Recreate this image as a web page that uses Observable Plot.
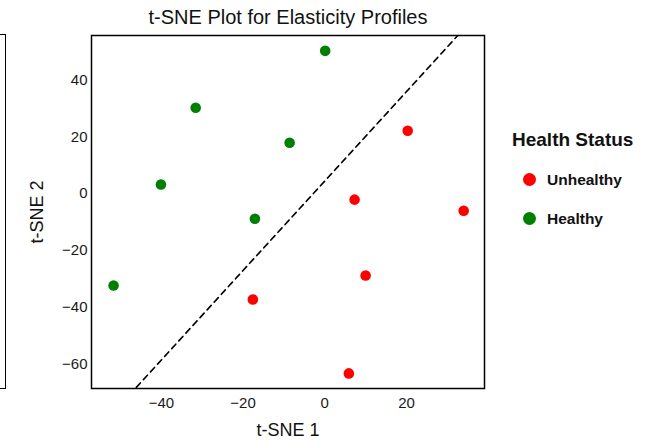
<!DOCTYPE html>
<html>
<head>
<meta charset="utf-8">
<script src="https://cdn.jsdelivr.net/npm/d3@7"></script>
<script src="https://cdn.jsdelivr.net/npm/@observablehq/plot@0.6"></script>
<style>
  html, body { margin: 0; padding: 0; background: white; }
  #wrap { position: relative; width: 654px; height: 440px; overflow: hidden; font-family: "Liberation Sans", Arial, Helvetica, sans-serif; }
  #leftpanel { position: absolute; left: -20px; top: 34px; width: 24px; height: 353px; border: 1.5px solid black; box-sizing: content-box; }
  .lg { position: absolute; white-space: nowrap; color: #111; font-weight: bold; }
  .dotl { position: absolute; width: 13px; height: 13px; border-radius: 50%; }
</style>
</head>
<body>
<div id="wrap">
  <div id="chart"></div>
  <div id="leftpanel"></div>
  <div id="legend"></div>
</div>
<script>
// ---- data ----
const statusCategories = ["Unhealthy", "Healthy"];
const statusColors = ["#ff0000", "#008000"];

const healthyX = [0.1, -31.6, -8.6, -40.1, -17.1, -51.7];
const healthyY = [50.2, 30.2, 17.9, 3.2, -8.8, -32.3];

const unhealthyX = [20.3, 7.3, 34.0, 10.0, -17.6, 5.9];
const unhealthyY = [22.1, -2.1, -6.0, -28.8, -37.2, -63.2];

// decision boundary (dashed) endpoints
const boundaryX = [-60, 40];
const boundaryY = [-89.9, 67.3];

const xTicks = [-40, -20, 0, 20];
const yTicks = [-60, -40, -20, 0, 20, 40];

const titleText = "t-SNE Plot for Elasticity Profiles";
const xLabel = "t-SNE 1";
const yLabel = "t-SNE 2";
const legendTitle = "Health Status";

// ---- build tables ----
const points = [
  ...unhealthyX.map((x, i) => ({x, y: unhealthyY[i], status: "Unhealthy"})),
  ...healthyX.map((x, i) => ({x, y: healthyY[i], status: "Healthy"}))
];
const boundary = boundaryX.map((x, i) => ({x, y: boundaryY[i]}));

const chart = Plot.plot({
  width: 654,
  height: 440,
  marginLeft: 91,
  marginRight: 170,
  marginTop: 35,
  marginBottom: 52,
  style: {fontFamily: '"Liberation Sans", Arial, Helvetica, sans-serif', fontSize: "15px", color: "#1a1a1a", background: "white"},
  x: {domain: [-57.1, 39.1]},
  y: {domain: [-68.5, 55.6]},
  color: {domain: statusCategories, range: statusColors},
  marks: [
    Plot.line(boundary, {x: "x", y: "y", stroke: "black", strokeWidth: 1.6, strokeDasharray: "6,4.5", clip: true}),
    Plot.dot(points, {x: "x", y: "y", fill: "status", r: 5.3}),
    Plot.axisX(xTicks, {tickSize: 0, tickPadding: 9, fontSize: 15, label: null}),
    Plot.axisY(yTicks, {tickSize: 0, tickPadding: 4, fontSize: 15, label: null}),
    Plot.frame({stroke: "black", strokeWidth: 1.5}),
    Plot.text([xLabel], {frameAnchor: "bottom", lineAnchor: "middle", dy: 42, fontSize: 18, fill: "#111"}),
    Plot.text([yLabel], {frameAnchor: "left", textAnchor: "middle", lineAnchor: "middle", dx: -54, rotate: -90, fontSize: 18, fill: "#111"}),
    Plot.text([titleText], {frameAnchor: "top", lineAnchor: "middle", dy: -18, fontSize: 20, fill: "#111"})
  ]
});
document.getElementById("chart").appendChild(chart);

// ---- legend ----
const color = chart.scale("color");
const legend = document.getElementById("legend");
const t = document.createElement("div");
t.className = "lg";
t.style.cssText = "left:512px;top:129px;font-size:19px;line-height:22px;";
t.textContent = legendTitle;
legend.appendChild(t);
statusCategories.forEach((c, i) => {
  const rowCenter = 179 + i * 39;
  const d = document.createElement("div");
  d.className = "dotl";
  d.style.left = (529 - 6.5) + "px";
  d.style.top = (rowCenter - 6.5) + "px";
  d.style.background = color.apply(c);
  legend.appendChild(d);
  const l = document.createElement("div");
  l.className = "lg";
  l.style.cssText = `left:547px;top:${rowCenter - 9}px;font-size:15.5px;line-height:20px;`;
  l.textContent = c;
  legend.appendChild(l);
});
</script>
</body>
</html>
